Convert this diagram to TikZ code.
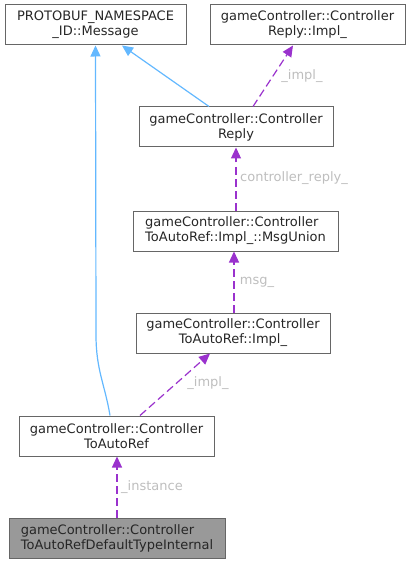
\documentclass[tikz,border=0pt]{standalone}
\usepackage{fontspec}
\setmainfont{DejaVu Sans}
\usepackage{tikz}
\usetikzlibrary{positioning,arrows.meta,calc}
\usepackage{xcolor}
\definecolor{boxline}{HTML}{666666}
\definecolor{boxgray}{HTML}{999999}
\definecolor{refpurple}{HTML}{9A32CD}
\definecolor{inhblue}{HTML}{63B8FF}
\definecolor{lblgray}{HTML}{BEBEBE}

\begin{document}
\begin{tikzpicture}[
    x=1pt, y=-1pt,
    classnode/.style={draw=boxline, line width=1pt, rectangle, align=center, minimum height=40pt, inner sep=0pt,
        font=\fontsize{13}{15}\selectfont, text=black!85},
    selfnode/.style={classnode, fill=boxgray, align=left},
    memberedge/.style={draw=refpurple, line width=1.2pt, dash pattern=on 8pt off 4pt,
        -{Triangle[length=11pt,width=10pt]}},
    inheritedge/.style={draw=inhblue, line width=1.2pt, -{Triangle[length=11pt,width=10pt]}},
    edgelabel/.style={text=lblgray, font=\fontsize{13}{15}\selectfont, inner sep=0pt}
]
\useasboundingbox (0,0) rectangle (411,564);

% classes
\node[classnode, minimum width=181pt] (msg) at (95.5,25) {PROTOBUF\_NAMESPACE\\\_ID::Message};
\node[classnode, minimum width=195pt] (replyimpl) at (307.5,25) {gameController::Controller\\Reply::Impl\_};
\node[classnode, minimum width=194pt] (reply) at (236,127) {gameController::Controller\\Reply};
\node[classnode, minimum width=205pt, align=left] (msgunion) at (235.5,231) {gameController::Controller\\ToAutoRef::Impl\_::MsgUnion};
\node[classnode, minimum width=194pt] (impl) at (233,333) {gameController::Controller\\ToAutoRef::Impl\_};
\node[classnode, minimum width=195pt] (toautoref) at (116.5,436) {gameController::Controller\\ToAutoRef};
\node[selfnode, minimum width=216pt] (deftype) at (117,538) {gameController::Controller\\ToAutoRefDefaultTypeInternal};

% inheritance
\coordinate (bend) at (96,335);
\draw[inheritedge] ([xshift=-6.5pt]toautoref.north) .. controls (105,385) and (96,370) .. (bend) -- (msg.south);
\draw[inheritedge] ([xshift=-27pt]reply.north) -- ([xshift=26.5pt]msg.south);

% members
\draw[memberedge] ([xshift=17pt]reply.north) -- ([xshift=-14.5pt]replyimpl.south);
\draw[memberedge] ([xshift=0.5pt]msgunion.north) -- ([xshift=0.5pt]msgunion.north |- reply.south);
\draw[memberedge] ([xshift=1pt]impl.north) -- ([xshift=1pt]impl.north |- msgunion.south);
\draw[memberedge] ([xshift=23.5pt]toautoref.north) -- ([xshift=-23pt]impl.south);
\draw[memberedge] (deftype.north) -- (deftype.north |- toautoref.south);

% labels
\node[edgelabel] (lblreplyimpl) at (302,76) {\_impl\_};
\node[edgelabel] (lblreply) at (294,178) {controller\_reply\_};
\node[edgelabel] (lblmsg) at (257,282) {msg\_};
\node[edgelabel] (lblimpl) at (208,383) {\_impl\_};
\node[edgelabel] (lblinstance) at (152,487) {\_instance};
\end{tikzpicture}
\end{document}
